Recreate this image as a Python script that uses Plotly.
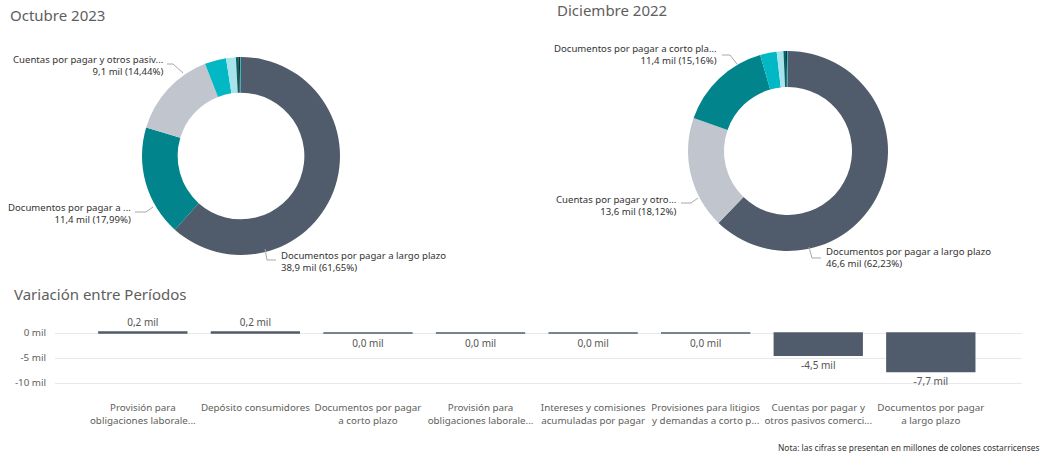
import plotly.graph_objects as go

FONT = "Segoe UI, Noto Sans, sans-serif"

# ---- Donut data (millones de colones, "mil") ----
pie_labels = [
    "Documentos por pagar a largo plazo",
    "Documentos por pagar a corto plazo",
    "Cuentas por pagar y otros pasivos comerciales",
    "Provisión para obligaciones laborales a corto plazo",
    "Depósito consumidores",
    "Provisión para obligaciones laborales a largo plazo",
    "Intereses y comisiones acumuladas por pagar",
    "Provisiones para litigios y demandas a corto plazo",
]
oct_2023 = [38.93, 11.36, 9.118, 2.21, 1.01, 0.29, 0.15, 0.078]
dic_2022 = [46.62, 11.357, 13.575, 2.01, 0.81, 0.29, 0.15, 0.103]
pie_colors = ["#505C6B", "#01848C", "#C1C6CE", "#01B8C4", "#A6E3EA",
              "#0B5E61", "#1C2B2D", "#01B8C4"]

# truncated label text shown by the report (index into pie_labels)
oct_label_idx = [2, 1, 0]
oct_label_txt = ["Cuentas por pagar y otros pasiv...", "Documentos por pagar a ...",
                 "Documentos por pagar a largo plazo"]
dic_label_idx = [1, 2, 0]
dic_label_txt = ["Documentos por pagar a corto pla...", "Cuentas por pagar y otro...",
                 "Documentos por pagar a largo plazo"]

# ---- Bar data: variación entre períodos ----
bar_cats = [
    "Provisión para<br>obligaciones laborale...",
    "Depósito consumidores",
    "Documentos por pagar<br>a corto plazo",
    "Provisión para<br>obligaciones laborale...",
    "Intereses y comisiones<br>acumuladas por pagar",
    "Provisiones para litigios<br>y demandas a corto p...",
    "Cuentas por pagar y<br>otros pasivos comerci...",
    "Documentos por pagar<br>a largo plazo",
]
bar_vals = [0.20, 0.20, -0.01, -0.01, -0.01, -0.01, -4.46, -7.69]
bar_labels = ["0,2 mil", "0,2 mil", "0,0 mil", "0,0 mil", "0,0 mil", "0,0 mil",
              "-4,5 mil", "-7,7 mil"]
y_tickvals = [0, -5, -10]
y_ticktext = ["0 mil", "-5 mil", "-10 mil"]

W, H = 1045, 454


def fx(p):
    return p / W


def fy(p):
    return 1 - p / H


def px_x(a, b):
    return [a / W, b / W]


def px_y(top, bottom):
    return [(H - bottom) / H, (H - top) / H]


def lbl(values, i, name):
    tot = sum(values)
    v = f"{values[i]:.1f}".replace(".", ",")
    p = f"{100 * values[i] / tot:.2f}".replace(".", ",")
    return f"{name}<br>{v} mil ({p}%)"


fig = go.Figure()

for vals, dom in [(oct_2023, dict(x=px_x(142, 340), y=px_y(57, 255))),
                  (dic_2022, dict(x=px_x(688, 888), y=px_y(51, 251)))]:
    fig.add_trace(go.Pie(
        labels=pie_labels, values=vals, hole=0.64, sort=True,
        direction="clockwise", rotation=0,
        marker=dict(colors=pie_colors, line=dict(width=0)),
        textinfo="none", showlegend=False, hoverinfo="label+value+percent",
        domain=dom,
    ))

fig.add_trace(go.Bar(
    x=list(range(len(bar_cats))), y=bar_vals,
    marker=dict(color="#505C6B", line=dict(color="#505C6B", width=1.5)),
    text=bar_labels, textposition="outside", cliponaxis=False,
    textfont=dict(family=FONT, size=10, color="#555555"),
    hoverinfo="y", showlegend=False,
))

# ---- pie label annotations (text computed from the data) ----
label_specs = [
    # (values, index, text, x, y_mid, side)
    (oct_2023, oct_label_idx[0], oct_label_txt[0], 165, 65, "right"),
    (oct_2023, oct_label_idx[1], oct_label_txt[1], 133, 213, "right"),
    (oct_2023, oct_label_idx[2], oct_label_txt[2], 279, 261, "left"),
    (dic_2022, dic_label_idx[0], dic_label_txt[0], 719, 55, "right"),
    (dic_2022, dic_label_idx[1], dic_label_txt[1], 679, 205, "right"),
    (dic_2022, dic_label_idx[2], dic_label_txt[2], 824, 257, "left"),
]
annotations = []
for vals, i, name, x, y, side in label_specs:
    annotations.append(dict(
        text=lbl(vals, i, name), x=fx(x), y=fy(y), xref="paper", yref="paper",
        xanchor=side, yanchor="middle", align=side, showarrow=False,
        font=dict(family=FONT, size=9.6, color="#333333"),
    ))

leaders = [
    [(167, 64), (173, 64), (183, 73)],
    [(135, 212), (146, 212), (153, 207)],
    [(265, 249), (267, 260), (276, 260)],
    [(722, 55), (730, 55), (737, 64)],
    [(681, 203), (691, 203), (698, 198)],
    [(809, 247), (812, 258), (821, 258)],
]
shapes = []
for pts in leaders:
    path = "M " + " L ".join(f"{fx(a):.5f},{fy(b):.5f}" for a, b in pts)
    shapes.append(dict(type="path", path=path, xref="paper", yref="paper",
                       line=dict(color="#A8A8A8", width=1)))

titles = [("Octubre 2023", 8, 15), ("Diciembre 2022", 555, 10),
          ("Variación entre Períodos", 12, 294)]
for t, x, y in titles:
    annotations.append(dict(
        text=t, x=fx(x), y=fy(y), xref="paper", yref="paper",
        xanchor="left", yanchor="middle", showarrow=False,
        font=dict(family=FONT, size=15, color="#5E5E5E"),
    ))
annotations.append(dict(
    text="Nota: las cifras se presentan en millones de colones costarricenses",
    x=fx(1042), y=fy(447), xref="paper", yref="paper",
    xanchor="right", yanchor="middle", showarrow=False,
    font=dict(family=FONT, size=8.4, color="#333333"),
))

fig.update_layout(
    width=W, height=H,
    margin=dict(l=0, r=0, t=0, b=0, autoexpand=False),
    paper_bgcolor="white", plot_bgcolor="white",
    separators=",.",
    bargap=0.22,
    font=dict(family=FONT, size=10, color="#333333"),
    xaxis=dict(
        domain=px_x(55, 1022),
        range=[-0.78, 7.81],
        tickvals=list(range(len(bar_cats))), ticktext=bar_cats,
        showgrid=False, zeroline=False, showline=False, ticks="",
        tickangle=0, automargin=False, ticklabelstandoff=5,
        tickfont=dict(family=FONT, size=9.8, color="#605E5C"),
    ),
    yaxis=dict(
        domain=px_y(310, 395),
        range=[-12.4, 4.6],
        tickvals=y_tickvals, ticktext=y_ticktext,
        showgrid=True, gridcolor="#E8E8E8", gridwidth=1,
        zeroline=True, zerolinecolor="#E8E8E8", zerolinewidth=1,
        ticks="", automargin=False,
        tickfont=dict(family=FONT, size=9.8, color="#605E5C"),
        ticklabelstandoff=8,
    ),
    annotations=annotations,
    shapes=shapes,
)

fig.write_html("out.html", config={"displayModeBar": False},
               post_script="document.body.style.margin='0';")
